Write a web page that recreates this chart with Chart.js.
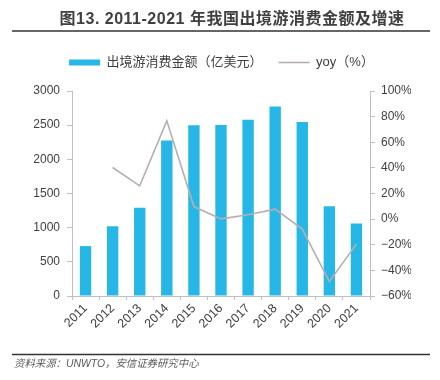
<!DOCTYPE html>
<html><head><meta charset="utf-8">
<script src="https://cdn.jsdelivr.net/npm/chart.js@4/dist/chart.umd.min.js"></script>
<style>html,body{margin:0;padding:0;background:#fff}#wrap{width:440px;height:380px;position:relative}</style>
</head><body><div id="wrap"><canvas id="c" width="440" height="380"></canvas></div>
<script>
const titleText = '图13. 2011-2021 年我国出境游消费金额及增速';
const sourceText = '资料来源：UNWTO，安信证券研究中心';
const years = ['2011','2012','2013','2014','2015','2016','2017','2018','2019','2020','2021'];
const spending = [730, 1022, 1290, 2274, 2497, 2503, 2581, 2775, 2547, 1314, 1062];
const yoy = [null, 40.3, 26.0, 76.7, 9.8, 0.2, 3.4, 7.8, -7.8, -48.7, -19.5];
const barLabel = '出境游消费金额（亿美元）';
const lineLabel = 'yoy（%）';
const leftTicks = [0, 500, 1000, 1500, 2000, 2500, 3000];
const rightTicks = [-60, -40, -20, 0, 20, 40, 60, 80, 100];

const CJK = '"Liberation Sans", "Noto Sans CJK SC", sans-serif';

const decor = {
  id: 'decor',
  afterInit(chart) {
    const lg = chart.legend;
    if (lg && !lg._patched) {
      const orig = lg.fit;
      lg.fit = function () { orig.call(this); this.height += 12; };
      lg._patched = true;
    }
  },
  afterDraw(chart) {
    const ctx = chart.ctx;
    ctx.save();
    ctx.fillStyle = '#404040';
    ctx.font = 'bold 16px ' + CJK;
    try { ctx.letterSpacing = '0.5px'; } catch (e) {}
    ctx.textAlign = 'center';
    ctx.textBaseline = 'middle';
    ctx.fillText(titleText, 232, 20);
    try { ctx.letterSpacing = '0px'; } catch (e) {}
    ctx.strokeStyle = '#666666';
    ctx.lineWidth = 2;
    ctx.beginPath(); ctx.moveTo(12, 31); ctx.lineTo(430, 31); ctx.stroke();
    ctx.strokeStyle = '#333333';
    ctx.lineWidth = 1.5;
    ctx.beginPath(); ctx.moveTo(12, 354.5); ctx.lineTo(430, 354.5); ctx.stroke();
    ctx.fillStyle = '#595959';
    ctx.font = 'italic 10.4px ' + CJK;
    ctx.textAlign = 'left';
    ctx.fillText(sourceText, 14, 364);
    ctx.restore();
  }
};

new Chart(document.getElementById('c'), {
  data: {
    labels: years,
    datasets: [
      { type: 'bar', label: barLabel, data: spending, yAxisID: 'y', backgroundColor: '#27b7e7',
        barPercentage: 0.84, categoryPercentage: 0.5, order: 1 },
      { type: 'line', label: lineLabel, data: yoy, yAxisID: 'y1', borderColor: '#b8aeae', backgroundColor: '#b8aeae',
        borderWidth: 1.6, pointRadius: 0, tension: 0, order: 0, spanGaps: false }
    ]
  },
  options: {
    responsive: false,
    animation: false,
    devicePixelRatio: 1,
    layout: { padding: { top: 40, left: 32, right: 29, bottom: 48 } },
    plugins: {
      title: { display: false },
      tooltip: { enabled: false },
      legend: {
        position: 'top',
        labels: {
          usePointStyle: true,
          pointStyleWidth: 31,
          boxHeight: 6,
          padding: 16,
          color: '#404040',
          font: { size: 13, family: CJK },
          generateLabels(chart) {
            return chart.data.datasets.map((ds, i) => ({
              text: ds.label,
              fillStyle: ds.backgroundColor,
              strokeStyle: ds.borderColor || ds.backgroundColor,
              lineWidth: ds.type === 'line' ? 1.6 : 0,
              pointStyle: ds.type === 'line' ? 'line' : 'rect',
              hidden: false,
              datasetIndex: i,
              fontColor: '#404040'
            }));
          }
        }
      }
    },
    scales: {
      x: {
        offset: true,
        grid: { offset: true, drawOnChartArea: false, color: '#bfbfbf', tickLength: 4 },
        border: { color: '#bfbfbf' },
        ticks: { color: '#404040', font: { size: 12.5, family: CJK }, minRotation: 45, maxRotation: 45, padding: 1 },
        afterFit(s) { s.height = 36; }
      },
      y: {
        position: 'left',
        min: 0, max: 3000,
        afterBuildTicks(s) { s.ticks = leftTicks.map(v => ({ value: v })); },
        grid: { drawOnChartArea: false, color: '#bfbfbf', tickLength: 5 },
        border: { color: '#bfbfbf' },
        ticks: { color: '#404040', font: { size: 12, family: CJK }, padding: 7, callback: v => String(v) },
        afterFit(s) { s.width = 40; }
      },
      y1: {
        position: 'right',
        min: -60, max: 100,
        afterBuildTicks(s) { s.ticks = rightTicks.map(v => ({ value: v })); },
        grid: { drawOnChartArea: false, color: '#bfbfbf', tickLength: 5 },
        border: { color: '#bfbfbf' },
        ticks: { color: '#404040', font: { size: 12, family: CJK }, padding: 6,
          callback: v => (v < 0 ? '\u2212' + Math.abs(v) : v) + '%' },
        afterFit(s) { s.width = 41; }
      }
    }
  },
  plugins: [decor]
});
</script></body></html>
